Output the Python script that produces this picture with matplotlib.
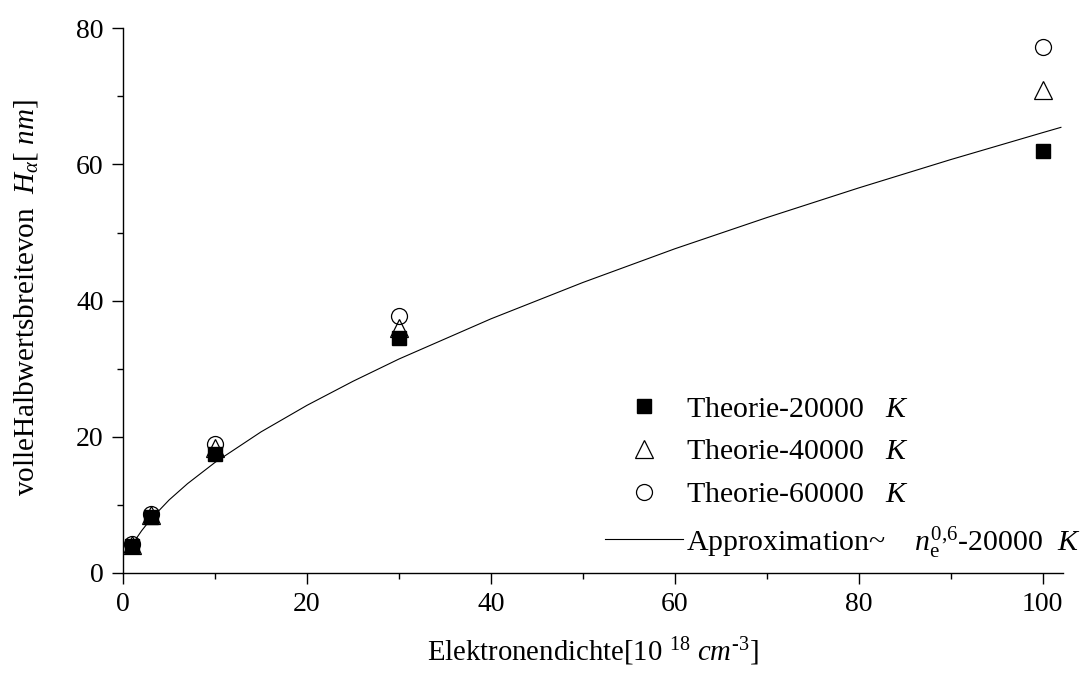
import matplotlib
matplotlib.use("Agg")
import matplotlib.pyplot as plt
from matplotlib.ticker import MultipleLocator

plt.rcParams["font.family"] = ["Liberation Serif", "DejaVu Serif"]
plt.rcParams["mathtext.fontset"] = "custom"
plt.rcParams["mathtext.rm"] = "Liberation Serif"
plt.rcParams["mathtext.it"] = "Liberation Serif:italic"
plt.rcParams["mathtext.bf"] = "Liberation Serif:bold"

# ── data ─────────────────────────────────────────────────
density = [1, 3, 10, 30, 100]
fwhm_20000 = [3.9, 8.2, 17.5, 34.5, 62.0]
fwhm_40000 = [4.1, 8.5, 18.3, 36.0, 71.0]
fwhm_60000 = [4.3, 8.6, 19.0, 37.8, 77.2]

approx_x = [1, 1.5, 2, 3, 5, 7, 10, 15, 20, 25, 30, 40, 50, 60, 70, 80, 90, 100, 102]
approx_y = [4.08, 5.2, 6.18, 7.89, 10.72, 13.11, 16.24, 20.72, 24.62, 28.15,
            31.42, 37.32, 42.66, 47.61, 52.19, 56.55, 60.71, 64.67, 65.45]

fig = plt.figure(figsize=(10.9, 6.74), dpi=100)
ax = fig.add_axes([0.113, 0.150, 0.862, 0.808])

ax.plot(density, fwhm_20000, linestyle="none", marker="s", markersize=9.5,
        color="black", label="Theorie-20000   $K$")
ax.plot(density, fwhm_40000, linestyle="none", marker="^", markersize=13,
        markerfacecolor="none", markeredgecolor="black", markeredgewidth=0.9,
        label="Theorie-40000   $K$")
ax.plot(density, fwhm_60000, linestyle="none", marker="o", markersize=11.5,
        markerfacecolor="none", markeredgecolor="black", markeredgewidth=0.9,
        label="Theorie-60000   $K$")
ax.plot(approx_x, approx_y, color="black", linewidth=0.8,
        label=r"Approximation~    $n_{\mathrm{e}}^{0{,}6}$-20000  $K$")

ax.set_xlim(0, 102.2)
ax.set_ylim(0, 80)
ax.xaxis.set_major_locator(MultipleLocator(20))
ax.xaxis.set_minor_locator(MultipleLocator(10))
ax.yaxis.set_major_locator(MultipleLocator(20))
ax.yaxis.set_minor_locator(MultipleLocator(10))

for side in ("top", "right"):
    ax.spines[side].set_visible(False)
for side in ("left", "bottom"):
    ax.spines[side].set_linewidth(1.0)

ax.tick_params(which="major", direction="out", length=8, width=1.0,
               labelsize=20, pad=6)
ax.tick_params(which="minor", direction="out", length=4.5, width=1.0)

ax.set_xlabel(r"Elektronendichte[10 $^{18}$ $cm^{\text{-3}}$]", fontsize=20.7)
ax.xaxis.set_label_coords(0.50, -0.115)
ax.set_ylabel(r"volleHalbwertsbreitevon  $H_{\alpha}$[ $nm$]", fontsize=21)
ax.yaxis.set_label_coords(-0.089, 0.506)

ax.legend(loc="upper left", bbox_to_anchor=(0.555, 0.413),
          bbox_transform=fig.transFigure, frameon=False, fontsize=21.5,
          handlelength=2.6, handletextpad=0.1, labelspacing=0.53,
          borderaxespad=0, borderpad=0)

fig.savefig("out.png", dpi=100)
